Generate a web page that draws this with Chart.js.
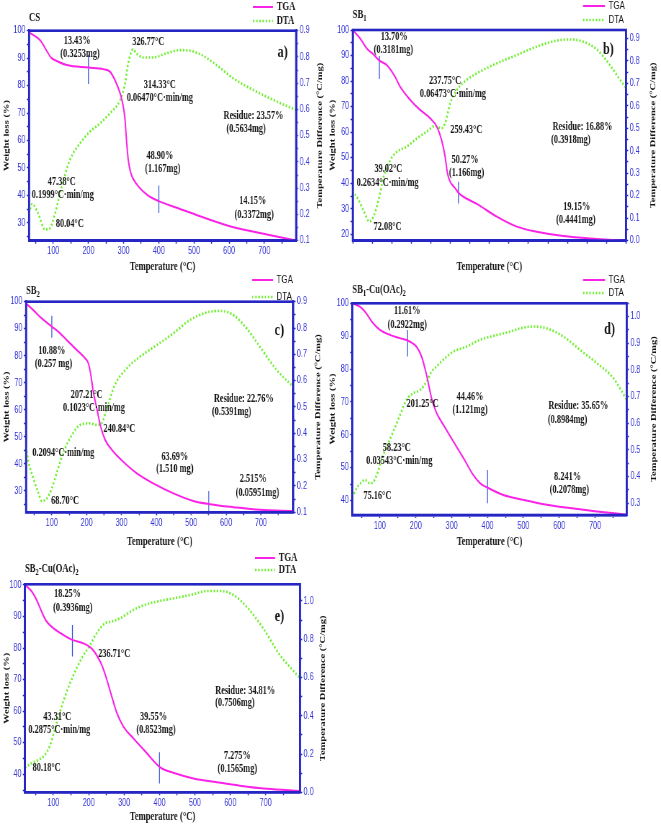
<!DOCTYPE html>
<html>
<head>
<meta charset="utf-8">
<script src="https://cdn.jsdelivr.net/npm/chart.js@4.4.1/dist/chart.umd.min.js"></script>
<style>
html, body { margin: 0; padding: 0; background: #fff; overflow: hidden; width: 661px; height: 824px; }
.panel { position: absolute; transform-origin: 0 0; }
</style>
</head>
<body>
<script>
// values: temperature (°C), weight (%), DTA (°C/mg)

// a) CS
var csTgaT = [31, 62, 95, 100, 138, 200, 242, 261, 275, 290, 299, 304, 308, 313, 320, 337, 366, 400, 451, 517, 612, 707, 790];
var csTgaW = [99.4, 96.6, 90.0, 89.6, 87.5, 86.6, 86.0, 85.1, 82.1, 77.2, 72.4, 67.6, 60.4, 53.1, 48.3, 44.1, 40.3, 37.9, 35.5, 32.4, 28.4, 25.8, 23.6];
var csDtaT = [31, 40, 57, 76, 90, 105, 124, 147, 176, 204, 233, 261, 290, 304, 313, 327, 336, 355, 384, 422, 460, 488, 517, 564, 612, 669, 726, 790];
var csDtaV = [0.204, 0.240, 0.204, 0.143, 0.147, 0.204, 0.306, 0.407, 0.471, 0.515, 0.547, 0.585, 0.636, 0.699, 0.776, 0.829, 0.814, 0.798, 0.798, 0.814, 0.826, 0.824, 0.811, 0.769, 0.718, 0.674, 0.636, 0.598];
var csMarks = [[200, 91.2, 80.6], [400, 43.6, 33.6]];
var csNotes = [
    ['13.43%', 168, 96.4], ['(0.3253mg)', 176, 91.5], ['326.77°C', 370, 96.0],
    ['314.33°C', 403, 80.3], ['0.06470°C·min/mg', 403, 75.4],
    ['Residue: 23.57%', 669, 68.8], ['(0.5634mg)', 648, 64.2],
    ['48.90%', 403, 54.4], ['(1.167mg)', 411, 49.6],
    ['47.38°C', 124, 44.8], ['0.1999°C·min/mg', 127, 40.3], ['80.04°C', 147, 29.6],
    ['14.15%', 667, 37.9], ['(0.3372mg)', 671, 33.0]
];

// b) SB1
var sb1TgaT = [30, 49, 66, 83, 98, 117, 138, 151, 177, 202, 228, 245, 257, 266, 272, 279, 292, 300, 313, 347, 398, 449, 500, 568, 653, 728];
var sb1TgaW = [100, 96.7, 92.8, 90.4, 88.0, 86.3, 81.7, 77.8, 72.6, 68.7, 65.4, 62.1, 56.9, 50.4, 43.9, 40.6, 38.0, 36.3, 34.7, 31.9, 26.9, 23.0, 21.0, 19.3, 18.2, 17.5];
var sb1DtaT = [30, 45, 57, 73, 83, 96, 109, 126, 143, 168, 194, 219, 240, 257, 266, 279, 296, 321, 355, 398, 449, 500, 551, 585, 619, 653, 687, 713, 727];
var sb1DtaV = [0.222, 0.181, 0.136, 0.085, 0.107, 0.181, 0.285, 0.359, 0.396, 0.418, 0.455, 0.485, 0.510, 0.500, 0.522, 0.611, 0.670, 0.715, 0.752, 0.789, 0.826, 0.863, 0.890, 0.895, 0.885, 0.851, 0.781, 0.715, 0.682];
var sb1Marks = [[98, 89.8, 80.8], [300, 40.6, 32.1]];
var sb1Notes = [
    ['13.70%', 136, 97.4], ['(0.3181mg)', 134, 92.2],
    ['237.75°C', 266, 80.2], ['0.06473°C·min/mg', 286, 74.8], ['259.43°C', 320, 60.8],
    ['Residue: 16.88%', 617, 62.1], ['(0.3918mg)', 587, 56.9],
    ['50.27%', 317, 49.1], ['(1.166mg)', 321, 43.9],
    ['39.02°C', 121, 45.4], ['0.2634°C·min/mg', 119, 40.2], ['72.08°C', 119, 23.0],
    ['19.15%', 602, 30.8], ['(0.4441mg)', 600, 25.6]
];

// c) SB2
var sb2TgaT = [26, 47, 71, 100, 124, 143, 172, 196, 205, 212, 219, 229, 239, 253, 277, 305, 344, 391, 449, 506, 554, 621, 697, 793];
var sb2TgaW = [99.4, 96.9, 93.8, 90.8, 88.3, 85.8, 82.1, 79.0, 77.2, 72.9, 66.7, 60.6, 54.4, 48.9, 44.5, 40.8, 36.5, 32.8, 29.1, 26.3, 25.1, 24.0, 23.0, 22.6];
var sb2DtaT = [26, 33, 47, 62, 71, 86, 100, 115, 134, 158, 181, 210, 229, 243, 258, 281, 315, 353, 401, 449, 496, 544, 582, 621, 659, 697, 745, 793];
var sb2DtaV = [0.349, 0.292, 0.229, 0.172, 0.143, 0.153, 0.191, 0.254, 0.330, 0.394, 0.432, 0.438, 0.432, 0.438, 0.495, 0.584, 0.647, 0.691, 0.735, 0.780, 0.830, 0.859, 0.865, 0.849, 0.799, 0.729, 0.641, 0.577];
var sb2Marks = [[100, 94.8, 86.7], [550, 30.0, 22.2]];
var sb2Notes = [
    ['10.88%', 100, 81.8], ['(0.257 mg)', 105, 76.8],
    ['207.21°C', 200, 65.5], ['0.1023°C·min/mg', 221, 60.6], ['240.84°C', 294, 52.9],
    ['Residue: 22.76%', 651, 64.0], ['(0.5391mg)', 616, 59.1],
    ['0.2094°C·min/mg', 133, 43.9], ['63.69%', 453, 42.7], ['(1.510 mg)', 453, 38.1],
    ['68.70°C', 138, 26.1], ['2.515%', 678, 34.4], ['(0.05951mg)', 690, 29.4]
];

// d) SB1-Cu(OAc)2
var sb1cuTgaT = [23, 44, 58, 81, 100, 128, 156, 184, 202, 216, 230, 244, 258, 277, 305, 333, 360, 379, 402, 444, 500, 565, 630, 705, 788];
var sb1cuTgaW = [100, 99.0, 97.5, 93.9, 91.9, 90.4, 89.4, 88.3, 86.8, 83.8, 78.2, 71.1, 66.6, 63.0, 57.9, 52.9, 47.8, 45.3, 43.8, 41.7, 40.2, 38.7, 37.7, 36.7, 35.7];
var sb1cuDtaT = [23, 35, 49, 58, 72, 81, 91, 109, 133, 156, 174, 193, 212, 230, 244, 258, 281, 305, 342, 379, 426, 463, 491, 528, 565, 612, 658, 705, 751, 788];
var sb1cuDtaV = [0.321, 0.356, 0.379, 0.388, 0.375, 0.379, 0.406, 0.481, 0.556, 0.631, 0.688, 0.713, 0.725, 0.756, 0.794, 0.813, 0.844, 0.869, 0.888, 0.913, 0.931, 0.944, 0.956, 0.963, 0.956, 0.925, 0.875, 0.825, 0.769, 0.688];
var sb1cuMarks = [[177, 91.9, 83.8], [400, 49.3, 39.2]];
var sb1cuNotes = [
    ['11.61%', 176, 97.7], ['(0.2922mg)', 176, 93.4],
    ['201.25°C', 219, 69.3], ['44.46%', 351, 71.6], ['(1.121mg)', 351, 67.6],
    ['Residue: 35.65%', 653, 68.6], ['(0.8984mg)', 623, 64.4],
    ['58.23°C', 147, 56.1], ['0.03543°C·min/mg', 154, 51.9], ['75.16°C', 93, 41.5],
    ['8.241%', 623, 47.3], ['(0.2078mg)', 628, 43.2]
];

// e) SB2-Cu(OAc)2
var sb2cuTgaT = [20, 39, 53, 67, 81, 100, 128, 154, 185, 208, 222, 237, 250, 264, 278, 298, 326, 364, 403, 439, 496, 562, 627, 703, 797];
var sb2cuTgaW = [100, 97.9, 95.2, 91.5, 88.4, 86.3, 84.2, 82.6, 81.5, 79.9, 77.8, 74.6, 70.4, 65.1, 59.9, 55.1, 51.4, 46.7, 42.1, 40.5, 38.7, 37.5, 36.4, 35.4, 34.7];
var sb2cuDtaT = [20, 39, 58, 76, 91, 105, 119, 138, 157, 180, 204, 222, 246, 264, 288, 326, 364, 401, 449, 496, 533, 571, 609, 646, 693, 740, 797];
var sb2cuDtaV = [0.129, 0.152, 0.169, 0.195, 0.247, 0.334, 0.422, 0.526, 0.613, 0.700, 0.770, 0.831, 0.883, 0.892, 0.909, 0.953, 0.983, 1.000, 1.017, 1.035, 1.052, 1.052, 1.031, 0.970, 0.857, 0.718, 0.596];
var sb2cuMarks = [[154, 87.3, 77.3], [400, 47.0, 37.1]];
var sb2cuNotes = [
    ['18.25%', 140, 97.0], ['(0.3936mg)', 155, 92.6], ['236.71°C', 272, 78.0],
    ['Residue: 34.81%', 642, 66.4], ['(0.7506mg)', 613, 62.5],
    ['43.31°C', 111, 58.3], ['0.2875°C·min/mg', 117, 54.1],
    ['39.55%', 383, 58.0], ['(0.8523mg)', 390, 54.1],
    ['80.18°C', 81, 42.1], ['7.275%', 620, 45.9], ['(0.1565mg)', 620, 41.7]
];

var AXIS = '#2626c4';
var TICK = '#3434d6';
var INK = '#161616';
var MAGENTA = '#fa22e6';
var GREEN = '#6cf02c';
var MARK = '#3a5ad8';
var SERIF = '"Liberation Serif", "Times New Roman", serif';
var SANS = '"Liberation Sans", Arial, sans-serif';
var SX = 0.72; // the figure is squeezed horizontally

// page layout of each panel: box and plot area in page pixels
var panels = [
    { tag: 'a)', title: 'CS', box: [0, 0, 330, 276], plot: [29, 30.7, 296, 240.7],
      x: [31, 790], yl: [23.5, 100], yr: [0.1, 0.9], rStep: 0.05, rLab: 0.1,
      tgaT: csTgaT, tgaW: csTgaW, dtaT: csDtaT, dtaV: csDtaV, marks: csMarks, notes: csNotes,
      tagAt: [752, 92.0], titleAt: [29, 18], rTitleX: 320, legend: [253, 273, 7, 21], legendSerif: true },
    { tag: 'b)', title: 'SB_1', box: [326, 0, 661, 276], plot: [352.7, 30, 626, 240.7],
      x: [30, 728], yl: [17.5, 100], yr: [0, 0.937], rStep: 0.05, rLab: 0.1,
      tgaT: sb1TgaT, tgaW: sb1TgaW, dtaT: sb1DtaT, dtaV: sb1DtaV, marks: sb1Marks, notes: sb1Notes,
      tagAt: [683, 92.4], titleAt: [352.7, 15], rTitleX: 653, legend: [583, 605, 6, 20], legendSerif: false },
    { tag: 'c)', title: 'SB_2', box: [0, 275, 326, 551], plot: [26, 301.7, 293.3, 512.3],
      x: [26, 793], yl: [22.1, 100], yr: [0.1, 0.9], rStep: 0.05, rLab: 0.1,
      tgaT: sb2TgaT, tgaW: sb2TgaW, dtaT: sb2DtaT, dtaV: sb2DtaV, marks: sb2Marks, notes: sb2Notes,
      tagAt: [753, 89.2], titleAt: [26, 291], rTitleX: 318, legend: [252, 273, 280, 297], legendSerif: false },
    { tag: 'd)', title: 'SB_1-Cu(OAc)_2', box: [326, 275, 661, 551], plot: [352.3, 303.3, 626.7, 515],
      x: [23, 788], yl: [35.6, 100], yr: [0.256, 1.05], rStep: 0.05, rLab: 0.1,
      tgaT: sb1cuTgaT, tgaW: sb1cuTgaW, dtaT: sb1cuDtaT, dtaV: sb1cuDtaV, marks: sb1cuMarks, notes: sb1cuNotes,
      tagAt: [740, 91.9], titleAt: [352.3, 290], rTitleX: 654, legend: [583, 605, 280, 293], legendSerif: false },
    { tag: 'e)', title: 'SB_2-Cu(OAc)_2', box: [0, 545, 330, 826], plot: [25, 584.3, 300, 792.3],
      x: [20, 797], yl: [34.3, 100.2], yr: [0, 1.087], rStep: 0.1, rLab: 0.2,
      tgaT: sb2cuTgaT, tgaW: sb2cuTgaW, dtaT: sb2cuDtaT, dtaV: sb2cuDtaV, marks: sb2cuMarks, notes: sb2cuNotes,
      tagAt: [739, 90.0], titleAt: [25, 569], rTitleX: 323, legend: [255, 275, 558, 570], legendSerif: true }
];

function pts(xs, ys) {
    var out = [];
    for (var i = 0; i < xs.length; i++) out.push({ x: xs[i], y: ys[i] });
    return out;
}

function onStep(v, step) {
    var k = v / step;
    return Math.abs(k - Math.round(k)) < 1e-6;
}

// text with '_' marking a subscript character
function drawSubText(ctx, text, x, y) {
    var parts = text.split(/(_.)/);
    ctx.textAlign = 'left';
    parts.forEach(function (t) {
        if (!t) return;
        var sub = t.charAt(0) === '_';
        var s = sub ? t.slice(1) : t;
        ctx.font = sub ? 'bold 9px ' + SERIF : 'bold 12px ' + SERIF;
        ctx.fillText(s, x, sub ? y + 4 : y);
        x += ctx.measureText(s).width;
    });
}

function makeDecor(p) {
    var cx = function (px) { return (px - p.box[0]) / p.s; };
    var cy = function (py) { return py - p.box[1]; };
    return {
        id: 'decor',
        afterDatasetsDraw: function (chart) {
            var ctx = chart.ctx, a = chart.chartArea;
            var xs = chart.scales.x, ys = chart.scales.y;
            ctx.save();
            // frame
            ctx.strokeStyle = AXIS;
            ctx.lineWidth = 2.6;
            ctx.strokeRect(a.left, a.top, a.right - a.left, a.bottom - a.top);

            // annotations
            ctx.fillStyle = INK;
            ctx.textAlign = 'center';
            ctx.textBaseline = 'middle';
            ctx.font = 'bold 11.5px ' + SERIF;
            p.notes.forEach(function (n) {
                ctx.fillText(n[0], xs.getPixelForValue(n[1]), ys.getPixelForValue(n[2]));
            });
            ctx.font = 'bold 17px ' + SERIF;
            ctx.fillText(p.tag, xs.getPixelForValue(p.tagAt[0]), ys.getPixelForValue(p.tagAt[1]));

            // panel title
            drawSubText(ctx, p.title, cx(p.titleAt[0]), cy(p.titleAt[1]));

            // right axis title, reading bottom to top
            ctx.save();
            ctx.translate(cx(p.rTitleX), (a.top + a.bottom) / 2);
            ctx.rotate(-Math.PI / 2);
            ctx.textAlign = 'center';
            ctx.font = 'bold 10.5px ' + SERIF;
            ctx.fillText('Temperature Difference (°C/mg)', 0, 0);
            ctx.restore();

            // legend
            ctx.font = p.legendSerif ? 'bold 12px ' + SERIF : '11px ' + SANS;
            ctx.textAlign = 'left';
            for (var i = 0; i < 2; i++) {
                var ds = chart.data.datasets[i];
                var y = cy(p.legend[2 + i]);
                ctx.strokeStyle = ds.borderColor;
                ctx.lineWidth = ds.borderWidth;
                ctx.setLineDash(ds.borderDash || []);
                ctx.beginPath();
                ctx.moveTo(cx(p.legend[0]), y);
                ctx.lineTo(cx(p.legend[1]), y);
                ctx.stroke();
                ctx.setLineDash([]);
                ctx.fillText(ds.label, cx(p.legend[1]) + 5, y);
            }
            ctx.restore();
        }
    };
}

panels.forEach(function (p) {
    var bw = p.box[2] - p.box[0], bh = p.box[3] - p.box[1];
    var W = Math.round(bw / SX);
    p.s = bw / W;

    var holder = document.createElement('div');
    holder.className = 'panel';
    holder.style.left = p.box[0] + 'px';
    holder.style.top = p.box[1] + 'px';
    holder.style.width = W + 'px';
    holder.style.height = bh + 'px';
    holder.style.transform = 'scaleX(' + p.s + ')';
    var cv = document.createElement('canvas');
    cv.width = W;
    cv.height = bh;
    holder.appendChild(cv);
    document.body.appendChild(holder);

    var leftW = (p.plot[0] - p.box[0]) / p.s;
    var rightW = W - (p.plot[2] - p.box[0]) / p.s;
    var bottomH = p.box[3] - p.plot[3];
    var tickFont = { family: SANS, size: 10 };

    var datasets = [
        { label: 'TGA', data: pts(p.tgaT, p.tgaW), yAxisID: 'y', borderColor: MAGENTA, borderWidth: 2,
          pointRadius: 0, cubicInterpolationMode: 'monotone', fill: false },
        { label: 'DTA', data: pts(p.dtaT, p.dtaV), yAxisID: 'y2', borderColor: GREEN, borderWidth: 2.6,
          borderDash: [2, 2.4], pointRadius: 0, cubicInterpolationMode: 'monotone', fill: false }
    ];
    p.marks.forEach(function (m) {
        datasets.push({ label: '', data: [{ x: m[0], y: m[1] }, { x: m[0], y: m[2] }], yAxisID: 'y',
            borderColor: MARK, borderWidth: 1.3, pointRadius: 0, tension: 0 });
    });

    new Chart(cv, {
        type: 'line',
        data: { datasets: datasets },
        options: {
            responsive: false,
            animation: false,
            events: [],
            layout: { autoPadding: false, padding: { top: p.plot[1] - p.box[1], left: 0, right: 0, bottom: 0 } },
            plugins: { legend: { display: false }, tooltip: { enabled: false } },
            scales: {
                x: {
                    type: 'linear', position: 'bottom', min: p.x[0], max: p.x[1],
                    grid: { drawOnChartArea: false, color: AXIS, tickLength: 3, tickWidth: 1.5 },
                    border: { color: AXIS, width: 2.6 },
                    ticks: { stepSize: 50, includeBounds: false, autoSkip: false, maxRotation: 0, minRotation: 0,
                        color: TICK, font: tickFont, padding: 2,
                        callback: function (v) { return onStep(v, 100) ? String(Math.round(v)) : ''; } },
                    title: { display: true, text: 'Temperature (°C)', color: INK,
                        font: { family: SERIF, size: 12, weight: 'bold' }, padding: { top: 0, bottom: 2 } },
                    afterFit: function (s) { s.height = bottomH; }
                },
                y: {
                    type: 'linear', position: 'left', min: p.yl[0], max: p.yl[1],
                    grid: { drawOnChartArea: false, color: AXIS, tickLength: 3, tickWidth: 1.5 },
                    border: { color: AXIS, width: 2.6 },
                    ticks: { stepSize: 5, includeBounds: false, autoSkip: false, color: TICK, font: tickFont, padding: 2,
                        callback: function (v) { return onStep(v, 10) ? String(Math.round(v)) : ''; } },
                    title: { display: true, text: 'Weight loss (%)', color: INK,
                        font: { family: SERIF, size: 10.5, weight: 'bold' }, padding: { top: 3, bottom: 0 } },
                    afterFit: function (s) { s.width = leftW; }
                },
                y2: {
                    type: 'linear', position: 'right', min: p.yr[0], max: p.yr[1],
                    grid: { drawOnChartArea: false, color: AXIS, tickLength: 3, tickWidth: 1.5 },
                    border: { color: AXIS, width: 2.6 },
                    ticks: { stepSize: p.rStep, includeBounds: false, autoSkip: false, color: TICK, font: tickFont, padding: 2,
                        callback: function (v) { return onStep(v, p.rLab) ? v.toFixed(1) : ''; } },
                    afterFit: function (s) { s.width = rightW; }
                }
            }
        },
        plugins: [makeDecor(p)]
    });
});
</script>
</body>
</html>
